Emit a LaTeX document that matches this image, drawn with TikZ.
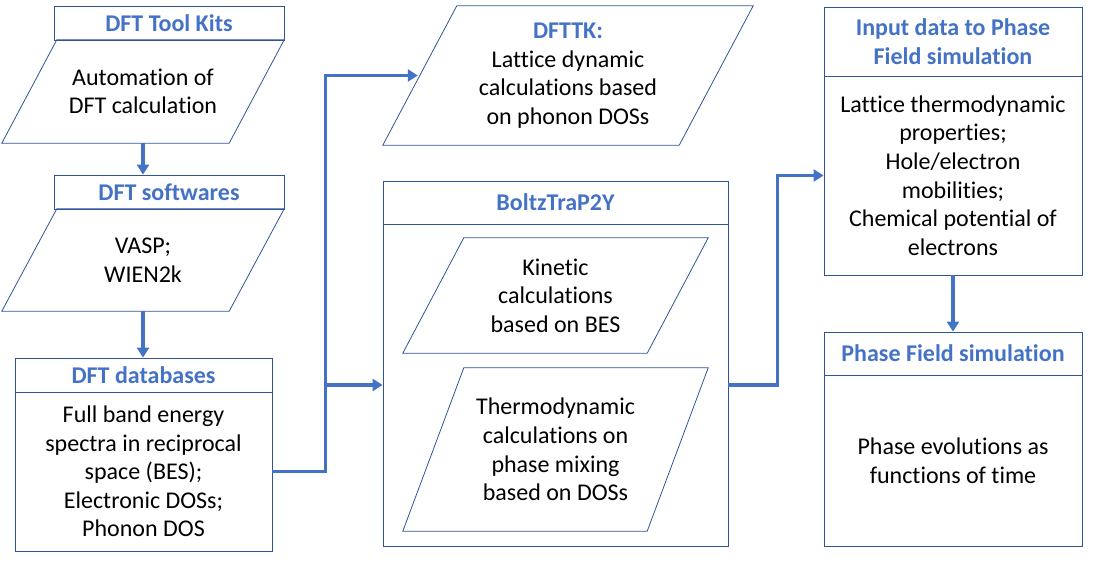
\documentclass[tikz,border=0pt]{standalone}
\usepackage{fontspec}
\setmainfont{Carlito}[Ligatures=NoCommon]
\usetikzlibrary{arrows.meta}
\definecolor{edgeblue}{HTML}{2F5597}
\definecolor{titleblue}{HTML}{4472C4}
\newcommand{\diagfont}{\fontsize{24}{28.6}\selectfont}
\tikzset{
  headbox/.style={draw=edgeblue, line width=0.8pt, text=titleblue, font=\diagfont\bfseries, align=center, inner sep=0pt},
  bodybox/.style={draw=edgeblue, line width=0.8pt, font=\diagfont, align=center, inner sep=0pt},
  parabox/.style={font=\diagfont, align=center, inner sep=0pt},
  paraline/.style={draw=edgeblue, line width=0.8pt},
  flow/.style={draw=titleblue, line width=3.5pt, -{Triangle[length=10pt,width=12pt]}}
}
\begin{document}
\begin{tikzpicture}[x=1pt, y=-1pt]
    \useasboundingbox (0,0) rectangle (1093,569);

    % Left column: DFT tools
    \node[headbox, minimum width=230pt, minimum height=34pt] (kits) at (169,23) {DFT Tool Kits};
    \node[parabox, minimum width=282pt, minimum height=103pt] (auto) at (143,91.5) {Automation of\\DFT calculation};
    \node[headbox, minimum width=230pt, minimum height=34pt] (soft) at (169,192) {DFT softwares};
    \node[parabox, minimum width=282pt, minimum height=102pt] (vasp) at (143,260) {VASP;\\WIEN2k};
    \node[headbox, minimum width=257pt, minimum height=34pt] (dbhead) at (143.5,375) {DFT databases};
    \node[bodybox, minimum width=257pt, minimum height=159pt] (dbbody) at (143.5,471.5)
        {Full band energy\\spectra in reciprocal\\space (BES);\\Electronic DOSs;\\Phonon DOS};

    % Middle column: DFTTK and BoltzTraP2Y
    \node[parabox, minimum width=370pt, minimum height=139pt] (dfttk) at (568,75.5)
        {\textcolor{titleblue}{\bfseries DFTTK:}\\Lattice dynamic\\calculations based\\on phonon DOSs};
    \node[headbox, minimum width=345pt, minimum height=43pt] (boltzhead) at (555.5,202.5) {BoltzTraP2Y};
    \node[bodybox, minimum width=345pt, minimum height=322pt] (boltzbody) at (555.5,385) {};
    \node[parabox, minimum width=305pt, minimum height=115pt] (kinetic) at (555.5,295.5)
        {Kinetic\\calculations\\based on BES};
    \node[parabox, minimum width=305pt, minimum height=163pt] (thermo) at (555.5,449.5)
        {Thermodynamic\\calculations on\\phase mixing\\based on DOSs};

    % Slanted outlines of the data boxes
    \foreach \n/\s in {auto/55, vasp/55, dfttk/74, kinetic/61, thermo/61}
        \draw[paraline] ([xshift=\s pt]\n.north west) -- (\n.north east)
            -- ([xshift=-\s pt]\n.south east) -- (\n.south west) -- cycle;

    % Right column: phase field
    \node[headbox, minimum width=258pt, minimum height=69pt] (inhead) at (953,41.5) {Input data to Phase\\Field simulation};
    \node[bodybox, minimum width=258pt, minimum height=199pt] (inbody) at (953,175.5)
        {Lattice thermodynamic\\properties;\\Hole/electron\\mobilities;\\Chemical potential of\\electrons};
    \node[headbox, minimum width=258pt, minimum height=43pt] (pfhead) at (953,353.5) {Phase Field simulation};
    \node[bodybox, minimum width=258pt, minimum height=171pt] (pfbody) at (953,460.5)
        {Phase evolutions as\\functions of time};

    % Connectors
    \draw[flow] (auto.south) -- (auto.south |- soft.north);
    \draw[flow] (vasp.south) -- (vasp.south |- dbhead.north);
    \draw[flow] (dbbody.east) -- ++(53,0) |- ([xshift=35pt]dfttk.west);
    \draw[flow] (dbbody.east) -- ++(53,0) |- (boltzbody.west);
    \draw[flow] (boltzbody.east) -- ++(49,0) |- (inbody.west);
    \draw[flow] (inbody.south) -- (pfhead.north);

\end{tikzpicture}
\end{document}
